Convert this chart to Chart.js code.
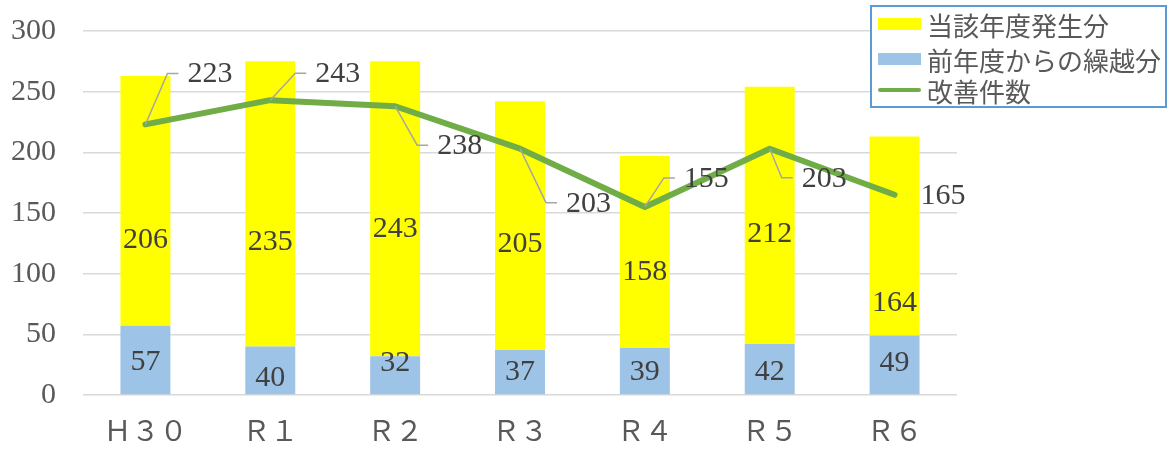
<!DOCTYPE html>
<html><head><meta charset="utf-8">
<script src="https://cdn.jsdelivr.net/npm/chart.js@4"></script>
<style>
html,body{margin:0;padding:0;background:#fff;}
#wrap{position:relative;width:1176px;height:450px;}
#c{position:absolute;left:0;top:0;}
#legend{position:absolute;left:870px;top:5px;width:297px;height:103px;border:2px solid #5b9bd5;box-sizing:border-box;background:#fff;
 font-family:"Noto Sans CJK JP","Noto Sans",sans-serif;font-size:26px;color:#595959;}
.item{position:absolute;left:6px;height:32px;display:flex;align-items:center;white-space:nowrap;}
.sw{width:43px;margin-right:6px;flex:none;}
</style>
</head><body>
<div id="wrap">
<canvas id="c" width="1176" height="450"></canvas>
<div id="legend"></div>
</div>
<script>
const categories = ['Ｈ３０','Ｒ１','Ｒ２','Ｒ３','Ｒ４','Ｒ５','Ｒ６'];
const carryOver = [57, 40, 32, 37, 39, 42, 49];          // 前年度からの繰越分
const newThisYear = [206, 235, 243, 205, 158, 212, 164];  // 当該年度発生分
const improved = [223, 243, 238, 203, 155, 203, 165];     // 改善件数
const yTicks = [0, 50, 100, 150, 200, 250, 300];
const seriesNames = ['当該年度発生分', '前年度からの繰越分', '改善件数'];

// label placement (value units for bar labels, pixel offsets for line labels)
const newLabelAt = [128, 126, 137, 124, 101, 133, 76];
const carryLabelAt = [27, 14, 26, 19, 19, 19, 26];
const lineLabelOffset = [[42,-51],[45,-27],[42,39],[46,54],[39,-29],[32,29],[26,0]];
const lineLabelLeader = [true,true,true,true,true,true,false];

const COLORS = {yellow:'#ffff00', blue:'#9dc3e6', green:'#70ad47', grid:'#d9d9d9', tick:'#595959', label:'#404040', leader:'#a6a6a6'};
const SERIF = '"Liberation Serif","Noto Sans CJK JP",serif';

const labelPlugin = {
  id:'labels',
  afterDatasetsDraw(chart){
    const ctx = chart.ctx;
    const y = chart.scales.y;
    const metaNew = chart.getDatasetMeta(2);
    const metaCarry = chart.getDatasetMeta(1);
    const metaLine = chart.getDatasetMeta(0);
    ctx.save();
    ctx.font = '30px ' + SERIF;
    ctx.fillStyle = COLORS.label;
    ctx.textAlign = 'center';
    ctx.textBaseline = 'middle';
    metaNew.data.forEach((bar,i)=>{
      ctx.fillText(String(newThisYear[i]), bar.x, y.getPixelForValue(newLabelAt[i]));
    });
    metaCarry.data.forEach((bar,i)=>{
      ctx.fillText(String(carryOver[i]), bar.x, y.getPixelForValue(carryLabelAt[i]));
    });
    ctx.textAlign = 'left';
    metaLine.data.forEach((pt,i)=>{
      const [dx,dy] = lineLabelOffset[i];
      const lx = pt.x + dx, ly = pt.y + dy;
      if (lineLabelLeader[i]) {
        ctx.strokeStyle = COLORS.leader;
        ctx.lineWidth = 1.5;
        ctx.beginPath();
        ctx.moveTo(pt.x, pt.y);
        ctx.lineTo(lx - 20, ly);
        ctx.lineTo(lx - 9, ly);
        ctx.stroke();
      }
      ctx.fillText(String(improved[i]), lx, ly + 1);
    });
    ctx.restore();
  }
};

new Chart(document.getElementById('c'), {
  data:{
    labels: categories,
    datasets:[
      {type:'line', label:seriesNames[2], data:improved, borderColor:COLORS.green, borderWidth:6,
       pointRadius:0, tension:0, order:0, stack:'line', borderCapStyle:'round', borderJoinStyle:'round'},
      {type:'bar', label:seriesNames[1], data:carryOver, backgroundColor:COLORS.blue, order:1, stack:'bars',
       categoryPercentage:1, barPercentage:0.4},
      {type:'bar', label:seriesNames[0], data:newThisYear, backgroundColor:COLORS.yellow, order:2, stack:'bars',
       categoryPercentage:1, barPercentage:0.4}
    ]
  },
  options:{
    responsive:false, animation:false, devicePixelRatio:1,
    layout:{padding:{left:0,right:219,top:31,bottom:0}},
    plugins:{legend:{display:false}, tooltip:{enabled:false}},
    scales:{
      x:{stacked:true, grid:{display:false, drawTicks:false}, border:{display:false},
         ticks:{color:COLORS.tick, font:{family:SERIF, size:28}, padding:22},
         afterFit(s){ s.height = 55; }},
      y:{stacked:true, min:0, max:300, afterBuildTicks(s){ s.ticks = yTicks.map(v=>({value:v})); },
         grid:{color:COLORS.grid, lineWidth:1.5, drawTicks:false}, border:{display:false},
         ticks:{color:COLORS.tick, font:{family:SERIF, size:30}, padding:27},
         afterFit(s){ s.width = 83; s.paddingTop = 10; s.paddingBottom = 10; }}
    }
  },
  plugins:[labelPlugin]
});

// legend
const legendItems = [
  {name:seriesNames[0], type:'box', color:COLORS.yellow},
  {name:seriesNames[1], type:'box', color:COLORS.blue},
  {name:seriesNames[2], type:'line', color:COLORS.green}
];
const lg = document.getElementById('legend');
const rowTops = [1, 36, 67];
legendItems.forEach((it,i)=>{
  const d = document.createElement('div');
  d.className = 'item';
  d.style.top = rowTops[i] + 'px';
  const sw = document.createElement('span');
  sw.className = 'sw';
  if (it.type === 'box') { sw.style.height = '12px'; sw.style.background = it.color; }
  else { sw.style.height = '4px'; sw.style.background = it.color; sw.style.borderRadius = '2px'; }
  d.appendChild(sw);
  const t = document.createElement('span');
  t.textContent = it.name;
  d.appendChild(t);
  lg.appendChild(d);
});
</script>
</body></html>
